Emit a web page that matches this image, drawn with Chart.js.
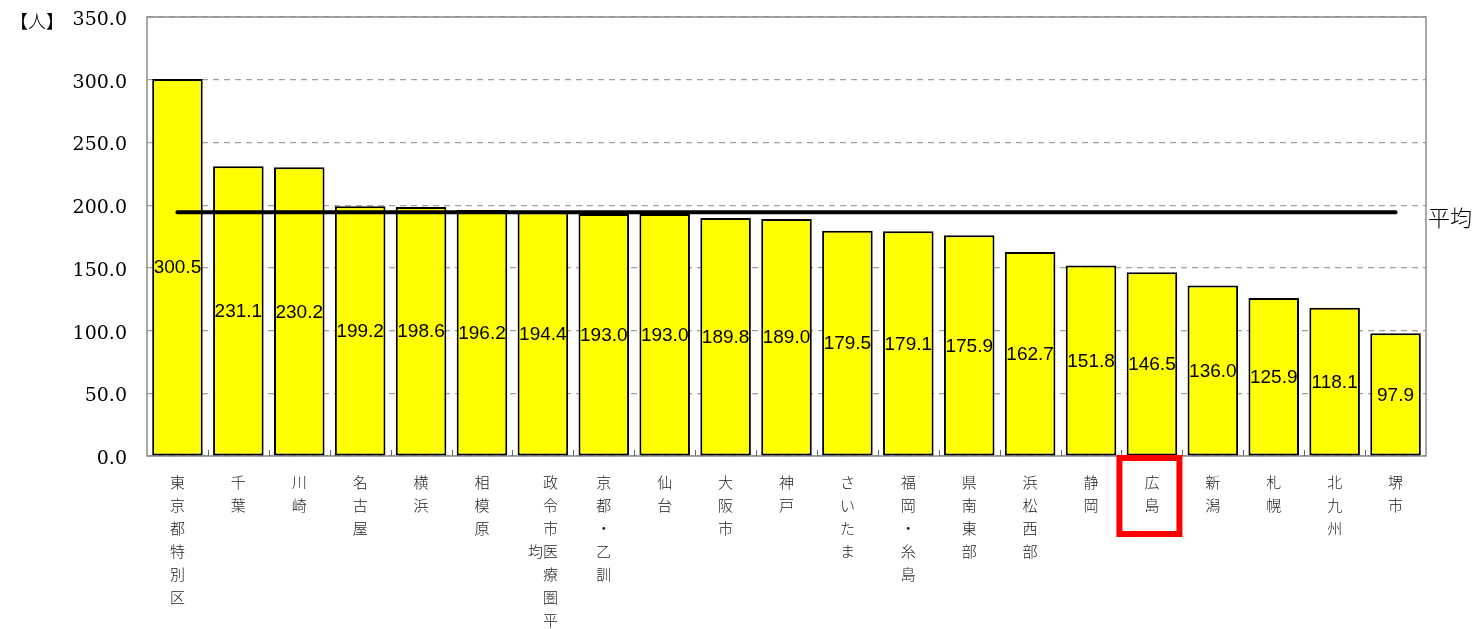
<!DOCTYPE html>
<html>
<head>
<meta charset="utf-8">
<script src="https://cdn.jsdelivr.net/npm/chart.js@4/dist/chart.umd.min.js"></script>
<style>
  html, body { margin: 0; padding: 0; background: #ffffff; }
  #wrap { width: 1481px; height: 629px; position: relative; }
</style>
</head>
<body>
<div id="wrap"><canvas id="c" width="1481" height="629"></canvas></div>
<script>
// ---- data ----
const categories = ['東京都特別区','千葉','川崎','名古屋','横浜','相模原','政令市医療圏平均','京都・乙訓','仙台','大阪市','神戸','さいたま','福岡・糸島','県南東部','浜松西部','静岡','広島','新潟','札幌','北九州','堺市'];
const values = [300.5,231.1,230.2,199.2,198.6,196.2,194.4,193.0,193.0,189.8,189.0,179.5,179.1,175.9,162.7,151.8,146.5,136.0,125.9,118.1,97.9];
const averageValue = 194.4;
const averageLabel = '平均';
const unitLabel = '【人】';
const highlightCategory = '広島';
const yMin = 0, yMax = 350, yStep = 50;

// vertical (stacked) label lines; long names wrap into a second column on the left
function verticalLines(name) {
  const chars = Array.from(name);
  if (chars.length <= 7) return chars;
  const col = chars.slice(0, 7);
  const extra = chars.slice(7);
  const lines = col.map(c => '\u3000' + c);
  extra.forEach((c, k) => { lines[3 + k] = c + col[3 + k]; });
  return lines;
}
const labelLines = categories.map(verticalLines);
const averageSeries = categories.map(() => averageValue);

const JP = '"Noto Sans CJK JP", "Noto Sans", sans-serif';

const decorPlugin = {
  id: 'decor',
  beforeDatasetsDraw(chart) {
    const { ctx, chartArea: a } = chart;
    ctx.save();
    ctx.strokeStyle = '#8c8c8c';
    ctx.lineWidth = 1.5;
    ctx.strokeRect(a.left, a.top, a.right - a.left, a.bottom - a.top);
    // small category boundary ticks
    const n = categories.length;
    const w = (a.right - a.left) / n;
    ctx.lineWidth = 1;
    ctx.strokeStyle = '#666';
    for (let i = 1; i < n; i++) {
      const x = Math.round(a.left + i * w) + 0.5;
      ctx.beginPath(); ctx.moveTo(x, a.bottom - 6); ctx.lineTo(x, a.bottom); ctx.stroke();
    }
    ctx.restore();
  },
  afterDatasetsDraw(chart) {
    const { ctx, chartArea: a } = chart;
    const meta = chart.getDatasetMeta(1);
    ctx.save();
    ctx.fillStyle = '#000';
    ctx.font = '19px "Liberation Sans", Arial, sans-serif';
    ctx.textAlign = 'center';
    ctx.textBaseline = 'middle';
    meta.data.forEach((bar, i) => {
      const yMid = (bar.y + bar.base) / 2;
      ctx.fillText(values[i].toFixed(1), bar.x, yMid + 1);
    });
    // average label
    const ys = chart.scales.y;
    ctx.font = '300 22px ' + JP;
    ctx.textAlign = 'left';
    ctx.fillText(averageLabel, a.right + 2, ys.getPixelForValue(averageValue) + 5);
    ctx.restore();
  },
  afterDraw(chart) {
    const { ctx, chartArea: a } = chart;
    ctx.save();
    // unit label
    ctx.fillStyle = '#000';
    ctx.font = '300 18px ' + JP;
    ctx.textAlign = 'left';
    ctx.textBaseline = 'middle';
    ctx.fillText(unitLabel, 10, 21);
    // highlight box
    const idx = categories.indexOf(highlightCategory);
    const cx = chart.scales.x.getPixelForValue(idx) - 2.5;
    ctx.strokeStyle = '#ff0000';
    ctx.lineWidth = 6;
    ctx.strokeRect(cx - 30, a.bottom + 2, 60, 76);
    ctx.restore();
  }
};

new Chart(document.getElementById('c'), {
  data: {
    labels: labelLines,
    datasets: [
      {
        type: 'line',
        label: averageLabel,
        data: averageSeries,
        borderColor: '#000',
        borderWidth: 4,
        borderCapStyle: 'round',
        pointRadius: 0,
        pointHoverRadius: 0,
        fill: false,
        order: 0
      },
      {
        type: 'bar',
        label: 'values',
        data: values,
        backgroundColor: '#ffff00',
        borderColor: '#000',
        borderWidth: 2,
        borderSkipped: false,
        barPercentage: 0.83,
        categoryPercentage: 1.0,
        order: 1
      }
    ]
  },
  plugins: [decorPlugin],
  options: {
    responsive: false,
    animation: false,
    layout: { padding: { top: 17, right: 55, left: 0, bottom: 0 } },
    plugins: { legend: { display: false }, tooltip: { enabled: false } },
    scales: {
      x: {
        type: 'category',
        offset: true,
        grid: { display: false, drawTicks: false },
        border: { display: false },
        ticks: {
          autoSkip: false,
          maxRotation: 0,
          minRotation: 0,
          padding: 15,
          color: '#222',
          font: { family: JP, size: 15, weight: '300', lineHeight: '23px' }
        },
        afterFit(scale) { scale.height = 173; }
      },
      y: {
        min: yMin,
        max: yMax,
        grid: { color: '#a0a0a0', lineWidth: 1.2, drawTicks: false },
        border: { display: false, dash: [6, 5] },
        ticks: {
          stepSize: yStep,
          padding: 20,
          labelOffset: 3,
          color: '#000',
          font: { family: '"DejaVu Serif", serif', size: 19 },
          callback: v => Number(v).toFixed(1)
        },
        afterFit(scale) {
          scale.width = 147;
          scale.paddingTop = 0;
          scale.paddingBottom = 0;
        }
      }
    }
  }
});
</script>
</body>
</html>
